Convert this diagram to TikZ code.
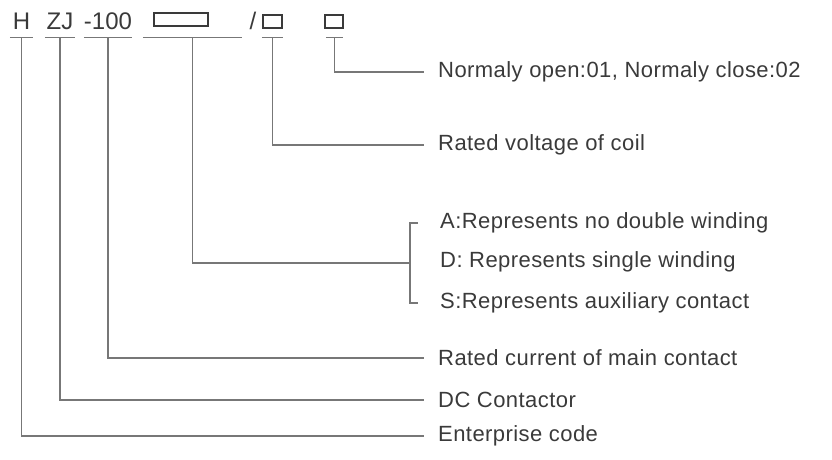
\documentclass[tikz,border=0pt]{standalone}
\usepackage{fontspec}
\setmainfont{Liberation Sans}
\definecolor{txt}{HTML}{3A3A3A}
\definecolor{ln}{HTML}{777777}
\begin{document}
\begin{tikzpicture}[
    x=1pt, y=-1pt,
    head/.style={anchor=base, inner sep=0pt, text height=17pt, text depth=8pt, text=txt, font=\fontsize{24}{28}\selectfont},
    lbl/.style={anchor=west, inner xsep=14pt, inner ysep=0pt, text=txt, font=\fontsize{22}{26}\selectfont\addfontfeatures{LetterSpace=2}},
    slot/.style={draw=txt, line width=1.2pt, inner sep=0pt},
    wire/.style={draw=ln, line width=1.4pt}
]
\useasboundingbox (0,0) rectangle (832,459);

% model code
\node[head, minimum width=23pt] (code) at (21.5,29) {H};
\node[head, minimum width=30pt] (series) at (60,29) {ZJ};
\node[head, minimum width=40pt] (current) at (108,29) {-100};
\node[head, minimum width=99pt] (kind) at (192.5,29) {};
\node[head] (slash) at (253,29) {/};
\node[head, minimum width=21pt] (volt) at (272.5,29) {};
\node[head, minimum width=17pt] (contact) at (334.5,29) {};

\node[slot, minimum width=54pt, minimum height=13pt] (kindbox) at (181,19.5) {};
\node[slot, minimum width=19pt, minimum height=13pt] (voltbox) at (272.5,21.5) {};
\node[slot, minimum width=18pt, minimum height=13pt] (contactbox) at (334,21.5) {};

% explanations
\node[lbl] (lNO) at (424,72) {Normaly open:01, Normaly close:02};
\node[lbl] (lVolt) at (424,145) {Rated voltage of coil};
\node[lbl] (lA) at (426,223) {A:Represents no double winding};
\node[lbl] (lD) at (426,262) {D: Represents single winding};
\node[lbl] (lS) at (426,303) {S:Represents auxiliary contact};
\node[lbl] (lCur) at (424,358) {Rated current of main contact};
\node[lbl] (lDC) at (424,400) {DC Contactor};
\node[lbl] (lEnt) at (424,436) {Enterprise code};

\coordinate (fork) at (410,263);

\draw[wire] (code.south west) -- (code.south east) (code.south) |- (lEnt.west);
\draw[wire] (series.south west) -- (series.south east) (series.south) |- (lDC.west);
\draw[wire] (current.south west) -- (current.south east) (current.south) |- (lCur.west);
\draw[wire] (kind.south west) -- (kind.south east) (kind.south) |- (fork);
\draw[wire] (volt.south west) -- (volt.south east) (volt.south) |- (lVolt.west);
\draw[wire] (contact.south west) -- (contact.south east) (contact.south) |- (lNO.west);
\draw[wire] ([xshift=-8pt]lA.west) -- (fork |- lA.west) -- (fork |- lS.west) -- ([xshift=-8pt]lS.west);
\end{tikzpicture}
\end{document}
